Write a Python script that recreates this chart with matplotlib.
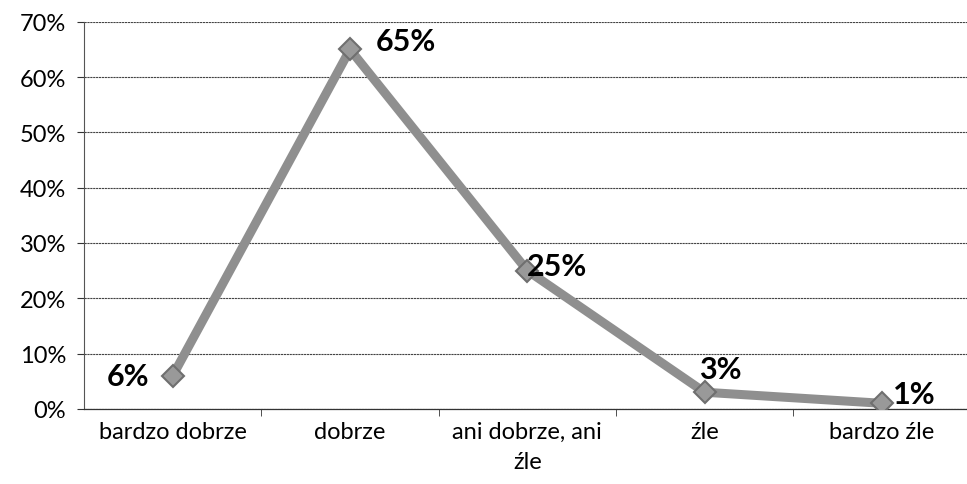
import numpy as np
import matplotlib.pyplot as plt
from matplotlib.ticker import PercentFormatter

categories = ["bardzo dobrze", "dobrze", "ani dobrze, ani\nźle", "źle", "bardzo źle"]
values = [6, 65, 25, 3, 1]
labels = ["6%", "65%", "25%", "3%", "1%"]
# label offsets in points (dx, dy)
offsets = [(-32, 0), (40, 6), (21, 3), (11, 17), (23, 7)]

plt.rcParams['font.family'] = ['Lato', 'DejaVu Sans']

fig = plt.figure(figsize=(9.67, 4.85), dpi=100)
ax = fig.add_axes([0.087, 0.155, 0.913, 0.798])

x = np.arange(len(categories))
ax.plot(x, values, color="#8f8f8f", lw=6.5, marker="D", ms=11,
        mfc="#999999", mec="#6f6f6f", mew=1.5, zorder=3)

for xi, v, lab, (dx, dy) in zip(x, values, labels, offsets):
    ax.annotate(lab, (xi, v), xytext=(dx, dy), textcoords="offset points",
                ha="center", va="center", fontsize=22, fontweight="bold", color="black")

ax.set_ylim(0, 70)
ax.set_yticks(range(0, 71, 10))
ax.yaxis.set_major_formatter(PercentFormatter(decimals=0))
ax.set_xlim(-0.5, 4.48)
ax.set_xticks(x)
ax.set_xticklabels(categories, fontsize=17, linespacing=1.5)
ax.set_xticks(np.arange(0.5, 4.5, 1), minor=True)
ax.tick_params(axis="x", which="major", length=0, pad=9)
ax.tick_params(axis="x", which="minor", length=5, color="#333333")
ax.tick_params(axis="y", length=5, labelsize=17, color="#333333", pad=8)
ax.grid(axis="y", color="#444444", lw=0.8, ls=(0, (2, 0.6)))
ax.set_axisbelow(True)
for s in ["top", "right"]:
    ax.spines[s].set_visible(False)
ax.spines["left"].set_color("#555555")
ax.spines["left"].set_linewidth(0.8)
ax.spines["bottom"].set_color("#333333")
ax.spines["bottom"].set_linewidth(0.9)

fig.savefig("out.png", dpi=100)
